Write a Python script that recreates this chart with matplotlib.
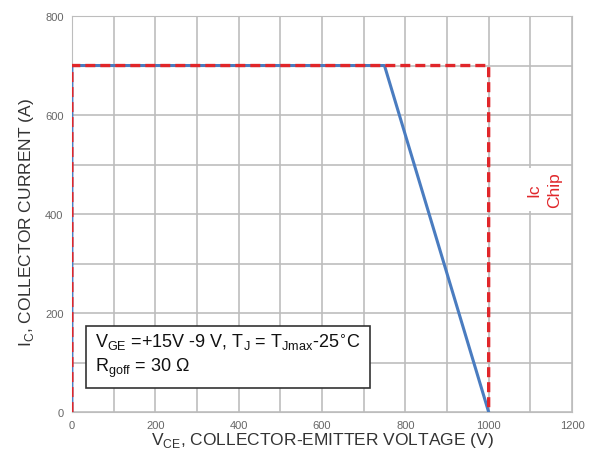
import matplotlib.pyplot as plt
import numpy as np

plt.rcParams['font.family'] = ['Liberation Sans', 'DejaVu Sans']

# RBSOA curve (blue) and chip current limit (red dashed)
vce_rbsoa = [0, 0, 750, 1000]
ic_rbsoa = [0, 700, 700, 0]
vce_chip = [0, 0, 1000, 1000]
ic_chip = [0, 700, 700, 0]

x_ticks = [0, 200, 400, 600, 800, 1000, 1200]
y_ticks = [0, 200, 400, 600, 800]

fig = plt.figure(figsize=(5.94, 4.6), dpi=100)
ax = fig.add_axes([0.121, 0.102, 0.842, 0.861])

ax.plot(vce_rbsoa, ic_rbsoa, color='#4a7cc0', lw=2.2, zorder=3, snap=False)
ax.plot(vce_chip, ic_chip, color='#e0262a', lw=2.4, ls=(0, (3, 1.5)), zorder=4, snap=False)

ax.set_xlim(0, 1200)
ax.set_ylim(0, 800)
ax.set_xticks(x_ticks)
ax.set_yticks(y_ticks)
ax.set_xticks(np.arange(0, 1201, 100), minor=True)
ax.set_yticks(np.arange(0, 801, 100), minor=True)
ax.grid(which='both', color='#bdbdbd', lw=1.2)
ax.tick_params(which='both', length=0, labelsize=8, labelcolor='#666666', pad=6)
for s in ax.spines.values():
    s.set_color('#bdbdbd')

ax.set_xlabel('V$_{\\mathregular{CE}}$, COLLECTOR-EMITTER VOLTAGE (V)', fontsize=12.5, color='#333333', labelpad=0)
ax.set_ylabel('I$_{\\mathregular{C}}$, COLLECTOR CURRENT (A)', fontsize=12.5, color='#333333', labelpad=4)
ax.yaxis.set_label_coords(-0.072, 0.48)

ax.text(55, 114, 'V$_{\\mathregular{GE}}$ =+15V -9 V, T$_{\\mathregular{J}}$ = T$_{\\mathregular{Jmax}}$-25$^{\\circ}$C\nR$_{\\mathregular{goff}}$ = 30 Ω',
        fontsize=13, color='#111111', va='center', ha='left', linespacing=1.25, zorder=5,
        bbox=dict(boxstyle='square,pad=0.5', fc='white', ec='#333333', lw=1.2))

ax.text(1133, 450, 'Ic\nChip', rotation=90, fontsize=12.5, color='#e0262a', ha='center', va='center',
        linespacing=1.45, zorder=5, bbox=dict(boxstyle='square,pad=0.2', fc='white', ec='none'))

fig.savefig('out.png', dpi=100)
